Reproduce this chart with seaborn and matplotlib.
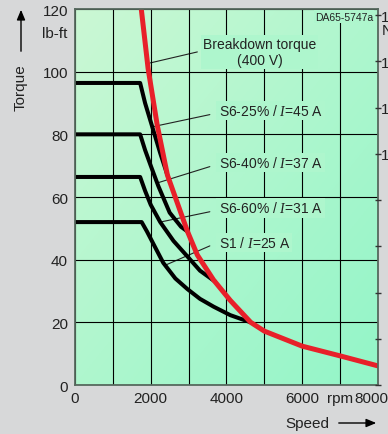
import numpy as np
import pandas as pd
import seaborn as sns
import matplotlib
matplotlib.use('Agg')
import matplotlib.pyplot as plt
from matplotlib.colors import LinearSegmentedColormap

# Torque/speed curves (speed in rpm, torque in lb-ft)
breakdown_speed = [1750, 1930, 2170, 2440, 2970, 3230, 3660, 4100, 4640, 5000, 6000, 7000, 8000]
breakdown_torque = [120, 101, 83, 67, 49, 41.5, 33.5, 27, 20, 17.2, 12.4, 9.3, 6.1]

s6_25_speed = [0, 1720, 1850, 2000, 2250, 2440]
s6_25_torque = [96.4, 96.4, 90, 84, 74, 67]
s6_40_speed = [0, 1720, 1850, 2000, 2200, 2500, 2800, 2970]
s6_40_torque = [80, 80, 75, 70, 63.5, 55, 50.5, 49]
s6_60_speed = [0, 1720, 1850, 2000, 2250, 2600, 2970, 3300, 3700]
s6_60_torque = [66.4, 66.4, 62, 57.5, 52, 46, 41, 36.5, 33]
s1_speed = [0, 1760, 1900, 2050, 2330, 2650, 2970, 3300, 3660, 4100, 4640]
s1_torque = [52, 52, 49, 45.5, 39, 34, 30.6, 27.5, 25, 22.3, 20]

curve_names = ['S6-25% / $\\mathit{I}$=45 A', 'S6-40% / $\\mathit{I}$=37 A',
               'S6-60% / $\\mathit{I}$=31 A', 'S1 / $\\mathit{I}$=25 A']
curve_speeds = [s6_25_speed, s6_40_speed, s6_60_speed, s1_speed]
curve_torques = [s6_25_torque, s6_40_torque, s6_60_torque, s1_torque]

# where each leader line touches its curve (rpm) and where the label sits
leader_speed = [2040, 2170, 2250, 2380]
label_torque = [87.5, 70.9, 56.5, 45.6]

NM_PER_LBFT = 1.35582
nm_ticks = [0, 20, 40, 60, 80, 100, 120, 140, 160]
# only the leading digits of the Nm labels make it onto the page
nm_labels = ['', '', '', '', '', '100', '120', '140', '160']

rows = []
for name, sp, tq in zip(curve_names, curve_speeds, curve_torques):
    for s, t in zip(sp, tq):
        rows.append({'curve': name, 'speed': s, 'torque': t})
curves_df = pd.DataFrame(rows)
bd_df = pd.DataFrame({'speed': breakdown_speed, 'torque': breakdown_torque})

sns.set_theme(style='white')
plt.rcParams['font.family'] = ['Liberation Sans', 'DejaVu Sans']
plt.rcParams['mathtext.fontset'] = 'custom'
plt.rcParams['mathtext.it'] = 'Liberation Serif:italic'

bg = '#d7d8d9'
edge = '#56695e'
ink = '#222222'
fig = plt.figure(figsize=(3.88, 4.35), dpi=100, facecolor=bg)
ax = fig.add_axes([0.1933, 0.1126, 0.7809, 0.8644])

# light green gradient behind the plot
cmap = LinearSegmentedColormap.from_list('bg', ['#cbf8d4', '#93f5c8'])
g = np.linspace(0, 1, 200)
xx, yy = np.meshgrid(g, g)
ax.imshow((xx + yy) / 2, cmap=cmap, extent=[0, 8000, 0, 120], aspect='auto',
          origin='upper', zorder=0)

ax.set_xlim(0, 8000)
ax.set_ylim(0, 120)
ax.set_xticks(range(0, 8001, 1000))
ax.set_xticklabels(['0', '', '2000', '', '4000', '', '6000', 'rpm', ''])
ax.set_yticks(range(0, 121, 20))
ax.grid(True, color='black', lw=0.8, zorder=1)
ax.set_axisbelow(False)
ax.tick_params(axis='both', length=0, labelsize=11, colors=ink)
ax.tick_params(axis='y', pad=5)
ax.tick_params(axis='x', pad=4)
for sp in ax.spines.values():
    sp.set_color(edge)
    sp.set_linewidth(1.3)
    sp.set_zorder(6)

sns.lineplot(data=curves_df, x='speed', y='torque', units='curve', estimator=None,
             sort=False, color='black', lw=2.9, ax=ax, zorder=3)
sns.lineplot(data=bd_df, x='speed', y='torque', estimator=None, sort=False,
             color='#e8202a', lw=3.6, ax=ax, zorder=4)
ax.set_xlabel('')
ax.set_ylabel('')

box = dict(boxstyle='square,pad=0.15', fc='#aef6cd', ec='none')

# labels with leader lines
for name, sp, tq, ls, lt in zip(curve_names, curve_speeds, curve_torques,
                                 leader_speed, label_torque):
    y0 = np.interp(ls, sp[1:], tq[1:])
    ax.plot([ls, 3560], [y0, lt - 1.2], color=ink, lw=0.8, zorder=2)
    ax.text(3790, lt, name, fontsize=10, ha='left', va='center',
            color=ink, bbox=box, zorder=5)

ax.plot([1990, 3230], [102.8, 106.3], color=ink, lw=0.8, zorder=2)
ax.text(4870, 106.2, 'Breakdown torque\n(400 V)', fontsize=10, ha='center',
        va='center', color=ink, linespacing=1.15, bbox=box, zorder=5)
ax.text(7868, 117.6, 'DA65-5747a', fontsize=7.5, ha='right', va='center',
        color=ink, bbox=dict(boxstyle='square,pad=0.1', fc='#aef6cd', ec='none'),
        zorder=5)

ax.text(-0.025, 0.937, 'lb-ft', transform=ax.transAxes, fontsize=11,
        ha='right', va='center', color=ink)
ax.text(7830, -0.015, '8000', transform=ax.get_xaxis_transform(), fontsize=11,
        ha='center', va='top', color=ink)

# secondary axis in Nm, labels run off the right edge like the original
ax2 = ax.twinx()
ax2.set_ylim(0, 120 * NM_PER_LBFT)
ax2.set_yticks(nm_ticks)
ax2.set_yticklabels(nm_labels, ha='right')
ax2.tick_params(axis='y', direction='inout', length=5, width=1, color='#333333',
                labelsize=11, pad=18, labelcolor=ink)
for sp in ax2.spines.values():
    sp.set_visible(False)
fig.text(382 / 388, (435 - 31) / 435, 'Nm', fontsize=11, ha='left', va='center',
         color=ink)

# axis titles with arrows
fig.text(21 / 388, (435 - 88) / 435, 'Torque', rotation=90, fontsize=11,
         ha='center', va='center', color=ink)
fig.add_artist(matplotlib.patches.FancyArrowPatch(
    (21 / 388, (435 - 55) / 435), (21 / 388, (435 - 8) / 435),
    transform=fig.transFigure, arrowstyle='-|>,head_length=6,head_width=2.5',
    color='black', lw=1))
fig.text(307 / 388, (435 - 424) / 435, 'Speed', fontsize=11, ha='center',
         va='center', color=ink)
fig.add_artist(matplotlib.patches.FancyArrowPatch(
    (336 / 388, (435 - 424) / 435), (379 / 388, (435 - 424) / 435),
    transform=fig.transFigure, arrowstyle='-|>,head_length=6,head_width=2.5',
    color='black', lw=1))

fig.savefig('out.png', dpi=100, facecolor=bg)
